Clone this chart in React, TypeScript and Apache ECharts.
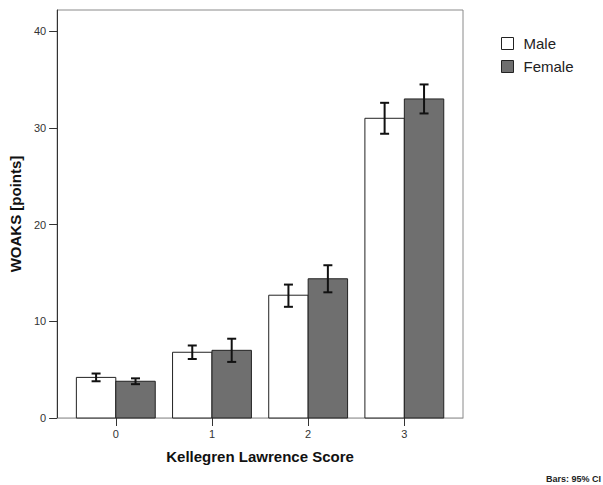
import React, { useEffect, useRef } from "react";
import * as echarts from "echarts";

const categories = [0, 1, 2, 3];
const yTicks = [0, 10, 20, 30, 40];
const maleMean = [4.2, 6.8, 12.7, 31.0];
const maleLow = [3.8, 6.1, 11.5, 29.4];
const maleHigh = [4.6, 7.5, 13.8, 32.6];
const femaleMean = [3.8, 7.0, 14.4, 33.0];
const femaleLow = [3.5, 5.8, 13.0, 31.5];
const femaleHigh = [4.1, 8.2, 15.8, 34.5];

const FONT = "'Liberation Sans', Arial, sans-serif";
const MALE_FILL = "#ffffff";
const FEMALE_FILL = "#6f6f6f";

function makeRender(side: number, fill: string) {
  return (params: any, api: any) => {
    const cat = api.value(0);
    const mean = api.value(1);
    const lo = api.value(2);
    const hi = api.value(3);
    const base = api.coord([cat, 0]);
    const top = api.coord([cat, mean]);
    const w = api.size([0.41, 0])[0];
    const x0 = side < 0 ? base[0] - w : base[0];
    const cx = x0 + w / 2;
    const yLo = api.coord([cat, lo])[1];
    const yHi = api.coord([cat, hi])[1];
    const cap = 4.5;
    return {
      type: "group",
      children: [
        {
          type: "rect",
          shape: { x: x0, y: top[1], width: w, height: base[1] - top[1] },
          style: { fill, stroke: "#222", lineWidth: 1 },
        },
        {
          type: "line",
          shape: { x1: cx, y1: yLo, x2: cx, y2: yHi },
          style: { stroke: "#111", lineWidth: 2 },
        },
        {
          type: "line",
          shape: { x1: cx - cap, y1: yLo, x2: cx + cap, y2: yLo },
          style: { stroke: "#111", lineWidth: 2 },
        },
        {
          type: "line",
          shape: { x1: cx - cap, y1: yHi, x2: cx + cap, y2: yHi },
          style: { stroke: "#111", lineWidth: 2 },
        },
      ],
    };
  };
}

export default function App() {
  const ref = useRef<HTMLDivElement>(null);
  useEffect(() => {
    if (!ref.current) return;
    const chart = echarts.init(ref.current, undefined, { renderer: "svg" });
    const maleData = categories.map((c, i) => [c, maleMean[i], maleLow[i], maleHigh[i]]);
    const femaleData = categories.map((c, i) => [c, femaleMean[i], femaleLow[i], femaleHigh[i]]);
    chart.setOption({
      animation: false,
      backgroundColor: "#ffffff",
      textStyle: { fontFamily: FONT },
      grid: {
        left: 54,
        top: 10,
        right: 140,
        bottom: 67,
        show: true,
        borderColor: "#8a8a8a",
        borderWidth: 1,
        backgroundColor: "transparent",
      },
      legend: {
        orient: "vertical",
        left: 501,
        top: 36,
        padding: 0,
        itemWidth: 12,
        itemHeight: 12,
        itemGap: 8,
        icon: "rect",
        textStyle: { fontSize: 15, color: "#222", fontFamily: FONT, padding: [0, 0, 0, 5] },
        data: [
          { name: "Male", itemStyle: { color: MALE_FILL, borderColor: "#222", borderWidth: 1 } },
          { name: "Female", itemStyle: { color: FEMALE_FILL, borderColor: "#222", borderWidth: 1 } },
        ],
      },
      xAxis: {
        type: "value",
        min: -0.61,
        max: 3.61,
        name: "Kellegren Lawrence Score",
        nameLocation: "middle",
        nameGap: 31,
        nameTextStyle: { fontSize: 15, fontWeight: "bold", color: "#111", fontFamily: FONT },
        splitLine: { show: false },
        axisLine: { show: true, onZero: false, lineStyle: { color: "#b5b5b5", width: 1 } },
        axisTick: {
          show: true,
          length: 8,
          customValues: categories,
          lineStyle: { color: "#333", width: 1 },
        },
        axisLabel: {
          customValues: categories,
          margin: 10,
          fontSize: 11,
          color: "#333",
          fontFamily: FONT,
        },
      },
      yAxis: {
        type: "value",
        min: 0,
        max: 42.2,
        name: "WOAKS [points]",
        nameLocation: "middle",
        nameGap: 30,
        nameTextStyle: { fontSize: 15, fontWeight: "bold", color: "#111", fontFamily: FONT },
        splitLine: { show: false },
        axisLine: { show: true, onZero: false, lineStyle: { color: "#333", width: 1 } },
        axisTick: {
          show: true,
          length: 8,
          customValues: yTicks,
          lineStyle: { color: "#333", width: 1 },
        },
        axisLabel: {
          customValues: yTicks,
          margin: 11,
          fontSize: 11,
          color: "#333",
          fontFamily: FONT,
        },
      },
      series: [
        {
          name: "Male",
          type: "custom",
          renderItem: makeRender(-1, MALE_FILL),
          itemStyle: { color: MALE_FILL, borderColor: "#222" },
          encode: { x: 0, y: 1 },
          data: maleData,
          z: 3,
        },
        {
          name: "Female",
          type: "custom",
          renderItem: makeRender(1, FEMALE_FILL),
          itemStyle: { color: FEMALE_FILL, borderColor: "#222" },
          encode: { x: 0, y: 1 },
          data: femaleData,
          z: 3,
        },
      ],
      graphic: [
        {
          type: "text",
          right: 2,
          top: 474,
          style: {
            text: "Bars: 95% CI",
            fontSize: 9,
            fontWeight: "bold",
            fill: "#222",
            fontFamily: FONT,
          },
        },
      ],
    });
    return () => chart.dispose();
  }, []);
  return (
    <div
      ref={ref}
      style={{ position: "fixed", left: 0, top: 0, width: 603, height: 485 }}
    />
  );
}
